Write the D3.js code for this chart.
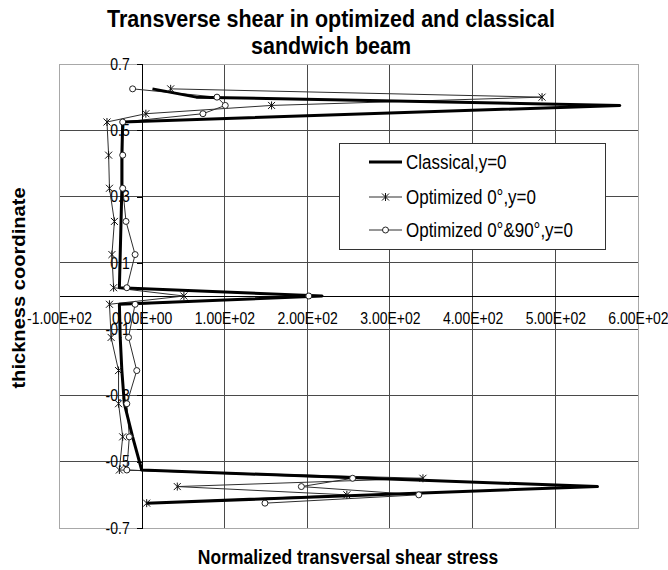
<!DOCTYPE html>
<html>
<head>
<meta charset="utf-8">
<script src="https://cdn.jsdelivr.net/npm/d3@7"></script>
<style>
  html, body { margin: 0; padding: 0; background: #fff; }
  svg { display: block; font-family: "Liberation Sans", Arial, sans-serif; }
</style>
</head>
<body>
<svg id="chart" width="668" height="570"></svg>
<script>
// Thickness coordinates and normalized transverse shear stress per series
const classicalZ = [0.625, 0.6, 0.575, 0.525, 0.425, 0.325, 0.225, 0.125, 0.025, 0,
                    -0.025, -0.125, -0.225, -0.325, -0.425, -0.525, -0.575, -0.625];
const classicalV = [13, 66, 578, -23, -24, -24, -25, -26, -27, 218,
                    -27, -26, -24, -21, -11, 0, 551, 6];

const optimizedZ = [0.625, 0.6, 0.575, 0.55, 0.525, 0.425, 0.325, 0.225, 0.125, 0.025, 0,
                    -0.025, -0.125, -0.225, -0.325, -0.425, -0.525, -0.55, -0.575, -0.6, -0.625];
const opt0V = [35, 484, 157, 5, -42, -40, -39, -33, -36, -34, 51,
               -39, -37, -28, -28, -23, -27, 340, 43, 248, 6];
const opt090V = [-11, 91, 101, 74, -23, -23, -23, -19, -8, -18, 202,
                 -8, -16, -6, -18, -15, -18, 255, 193, 335, 149];

const seriesNames = ["Classical,y=0", "Optimized 0°,y=0", "Optimized 0°&90°,y=0"];

const xTicks = [-100, 0, 100, 200, 300, 400, 500, 600];
const xTickLabels = ["-1.00E+02", "0.00E+00", "1.00E+02", "2.00E+02", "3.00E+02", "4.00E+02", "5.00E+02", "6.00E+02"];
const yTicks = [0.7, 0.5, 0.3, 0.1, -0.1, -0.3, -0.5, -0.7];
const yTickLabels = ["0.7", "0.5", "0.3", "0.1", "-0.1", "-0.3", "-0.5", "-0.7"];

const titleLines = ["Transverse shear in optimized and classical", "sandwich beam"];
const xTitle = "Normalized transversal shear stress";
const yTitle = "thickness coordinate";

// glyphs are drawn slightly taller than wide
const TEXT_STRETCH = 1.15;

const svg = d3.select("#chart");
const plot = { left: 59, right: 638, top: 64, bottom: 528 };

const x = d3.scaleLinear().domain([-100, 600]).range([plot.left, plot.right]);
const y = d3.scaleLinear().domain([-0.7, 0.7]).range([plot.bottom, plot.top]);

// Grid
const grid = svg.append("g");
grid.selectAll("line.vg").data(xTicks.filter(v => v !== -100 && v !== 600 && v !== 0))
  .join("line")
  .attr("x1", d => x(d)).attr("x2", d => x(d))
  .attr("y1", plot.top).attr("y2", plot.bottom)
  .attr("stroke", "#4a4a4a").attr("stroke-width", 1).attr("shape-rendering", "crispEdges");
grid.selectAll("line.hg").data(yTicks.filter(v => Math.abs(v) < 0.69))
  .join("line")
  .attr("x1", plot.left).attr("x2", plot.right)
  .attr("y1", d => y(d)).attr("y2", d => y(d))
  .attr("stroke", "#4a4a4a").attr("stroke-width", 1).attr("shape-rendering", "crispEdges");
svg.append("rect")
  .attr("x", plot.left).attr("y", plot.top)
  .attr("width", plot.right - plot.left).attr("height", plot.bottom - plot.top)
  .attr("fill", "none").attr("stroke", "#a8a8a8").attr("shape-rendering", "crispEdges");

// Axes crossing at zero
const yAxis = d3.axisLeft(y).tickValues(yTicks).tickSize(5).tickFormat((d, i) => yTickLabels[i]);
const gy = svg.append("g").attr("transform", `translate(${x(0)},0)`).call(yAxis);
gy.select(".domain").attr("stroke", "#000").attr("shape-rendering", "crispEdges");
gy.selectAll(".tick line").attr("stroke", "#000").attr("shape-rendering", "crispEdges");
gy.selectAll(".tick text").attr("x", -12).attr("font-size", 14).attr("fill", "#000")
  .attr("transform", `scale(1,${TEXT_STRETCH})`)
  .attr("font-family", "Liberation Sans, Arial, sans-serif");

const xAxis = d3.axisBottom(x).tickValues(xTicks).tickSize(0).tickFormat((d, i) => xTickLabels[i]);
const gx = svg.append("g").attr("transform", `translate(0,${y(0)})`).call(xAxis);
gx.select(".domain").attr("stroke", "#000").attr("shape-rendering", "crispEdges");
gx.selectAll(".tick text").attr("y", 28 / TEXT_STRETCH).attr("dy", 0).attr("font-size", 14).attr("fill", "#000")
  .attr("transform", `scale(1,${TEXT_STRETCH})`)
  .attr("font-family", "Liberation Sans, Arial, sans-serif");

// Series
const line = d3.line().x(d => x(d.v)).y(d => y(d.z));
const classical = classicalZ.map((z, i) => ({ z, v: classicalV[i] }));
const opt0 = optimizedZ.map((z, i) => ({ z, v: opt0V[i] }));
const opt090 = optimizedZ.map((z, i) => ({ z, v: opt090V[i] }));

svg.append("path").datum(opt090).attr("d", line)
  .attr("fill", "none").attr("stroke", "#2e2e2e").attr("stroke-width", 1);
svg.append("path").datum(opt0).attr("d", line)
  .attr("fill", "none").attr("stroke", "#2e2e2e").attr("stroke-width", 1);
svg.append("path").datum(classical).attr("d", line)
  .attr("fill", "none").attr("stroke", "#000").attr("stroke-width", 3).attr("stroke-linejoin", "round");

function starMarker(g, cx, cy) {
  const r = 3.5;
  g.append("path")
    .attr("d", `M${cx - r},${cy - r}L${cx + r},${cy + r}M${cx - r},${cy + r}L${cx + r},${cy - r}M${cx},${cy - r - 0.5}L${cx},${cy + r + 0.5}`)
    .attr("stroke", "#111").attr("stroke-width", 1).attr("fill", "none");
}
function circleMarker(g, cx, cy) {
  g.append("circle").attr("cx", cx).attr("cy", cy).attr("r", 3)
    .attr("fill", "#fff").attr("stroke", "#222").attr("stroke-width", 1);
}

const markers = svg.append("g");
opt090.forEach(d => circleMarker(markers, x(d.v), y(d.z)));
opt0.forEach(d => starMarker(markers, x(d.v), y(d.z)));

// Legend
const legend = svg.append("g");
legend.append("rect").attr("x", 339).attr("y", 143).attr("width", 266).attr("height", 106)
  .attr("fill", "#fff").attr("stroke", "#333").attr("shape-rendering", "crispEdges");
const rowsY = [162, 197, 230];
seriesNames.forEach((name, i) => {
  const ry = rowsY[i];
  legend.append("line").attr("x1", 369).attr("x2", 402).attr("y1", ry).attr("y2", ry)
    .attr("stroke", i === 0 ? "#000" : "#2e2e2e").attr("stroke-width", i === 0 ? 3 : 1);
  if (i === 1) starMarker(legend, 385.5, ry);
  if (i === 2) circleMarker(legend, 385.5, ry);
  legend.append("text").attr("transform", `translate(406,${ry}) scale(1,${TEXT_STRETCH})`)
    .attr("dy", "0.36em").attr("font-size", 17).attr("fill", "#000").text(name);
});

// Titles
titleLines.forEach((t, i) => {
  svg.append("text").attr("text-anchor", "middle").attr("font-weight", "bold").attr("font-size", 21.5)
    .attr("transform", `translate(331,${27 + i * 27}) scale(1,${TEXT_STRETCH})`).text(t);
});
svg.append("text").attr("text-anchor", "middle").attr("font-weight", "bold").attr("font-size", 17.5)
  .attr("transform", `translate(348,564) scale(1,${TEXT_STRETCH})`).text(xTitle);
svg.append("text").attr("text-anchor", "middle").attr("font-weight", "bold").attr("font-size", 17.5)
  .attr("transform", `translate(25,288) scale(1,${TEXT_STRETCH}) rotate(-90)`).text(yTitle);
</script>
</body>
</html>
